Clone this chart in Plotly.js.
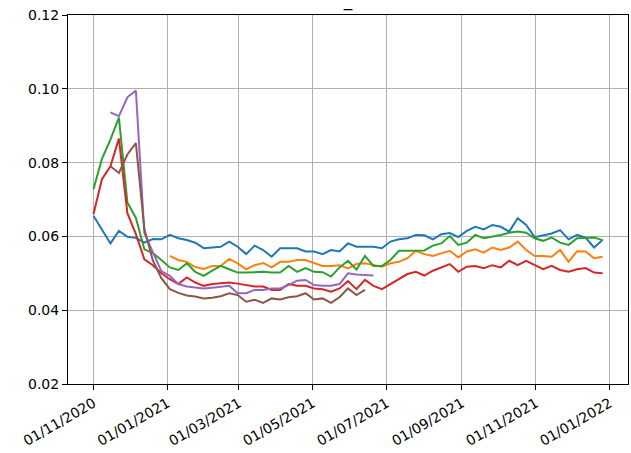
<!DOCTYPE html>
<html>
<head>
<meta charset="utf-8">
<script src="https://cdn.plot.ly/plotly-3.0.1.min.js"></script>
<style>html,body{margin:0;padding:0;background:#fff;}#chart{width:631px;height:453px;}</style>
</head>
<body>
<div id="chart"></div>
<script>
const dates = [
"2020-11-01","2020-11-08","2020-11-15","2020-11-22","2020-11-29","2020-12-06","2020-12-13","2020-12-20","2020-12-27",
"2021-01-03","2021-01-10","2021-01-17","2021-01-24","2021-01-31","2021-02-07","2021-02-14","2021-02-21","2021-02-28",
"2021-03-07","2021-03-14","2021-03-21","2021-03-28","2021-04-04","2021-04-11","2021-04-18","2021-04-25",
"2021-05-02","2021-05-09","2021-05-16","2021-05-23","2021-05-30","2021-06-06","2021-06-13","2021-06-20","2021-06-27",
"2021-07-04","2021-07-11","2021-07-18","2021-07-25","2021-08-01","2021-08-08","2021-08-15","2021-08-22","2021-08-29",
"2021-09-05","2021-09-12","2021-09-19","2021-09-26","2021-10-03","2021-10-10","2021-10-17","2021-10-24","2021-10-31",
"2021-11-07","2021-11-14","2021-11-21","2021-11-28","2021-12-05","2021-12-12","2021-12-19","2021-12-26"];

const seriesBlue = [0.0656,0.0620,0.0581,0.0615,0.0599,0.0596,0.0583,0.0593,0.0592,0.0604,
0.0595,0.0590,0.0583,0.0568,0.0569,0.0572,0.0586,0.0572,0.0552,0.0575,
0.0563,0.0545,0.0568,0.0568,0.0568,0.0559,0.0559,0.0552,0.0563,0.0559,
0.0581,0.0572,0.0572,0.0572,0.0568,0.0586,0.0592,0.0595,0.0604,0.0603,
0.0592,0.0606,0.0609,0.0598,0.0615,0.0626,0.0619,0.0631,0.0626,0.0613,
0.0649,0.0631,0.0598,0.0604,0.0608,0.0617,0.0592,0.0604,0.0597,0.0570,
0.0590];

const seriesOrange = [null,null,null,null,null,null,null,null,null,
0.0547,0.0536,0.0531,0.0517,0.0512,0.0520,0.0520,0.0539,0.0527,0.0511,0.0522,0.0528,
0.0516,0.0531,0.0531,0.0536,0.0536,0.0527,0.0520,0.0520,0.0522,
0.0513,0.0525,0.0527,0.0522,0.0518,0.0527,0.0531,0.0541,0.0561,0.0552,
0.0547,0.0554,0.0561,0.0543,0.0559,0.0565,0.0556,0.0570,0.0563,0.0570,
0.0586,0.0563,0.0547,0.0547,0.0545,0.0563,0.0531,0.0560,0.0559,0.0541,
0.0545];

const seriesGreen = [0.0728,0.0810,0.0862,0.0922,0.0692,0.0650,0.0565,0.0555,0.0536,0.0516,
0.0509,0.0527,0.0504,0.0493,0.0507,0.0520,0.0511,0.0502,0.0502,0.0504,
0.0504,0.0502,0.0502,0.0520,0.0504,0.0514,0.0504,0.0503,0.0491,0.0516,
0.0534,0.0510,0.0547,0.0520,0.0520,0.0536,0.0561,0.0561,0.0561,0.0562,
0.0575,0.0581,0.0601,0.0577,0.0583,0.0604,0.0595,0.0599,0.0604,0.0610,
0.0613,0.0610,0.0595,0.0588,0.0597,0.0583,0.0577,0.0595,0.0597,0.0597,
0.0590];

const seriesRed = [0.0660,0.0755,0.0790,0.0865,0.0663,0.0606,0.0538,0.0522,0.0500,0.0484,
0.0471,0.0489,0.0475,0.0466,0.0471,0.0473,0.0475,0.0472,0.0468,0.0464,
0.0464,0.0455,0.0455,0.0471,0.0466,0.0466,0.0459,0.0457,0.0450,0.0459,
0.0479,0.0457,0.0482,0.0466,0.0457,0.0471,0.0486,0.0498,0.0504,0.0494,
0.0507,0.0516,0.0525,0.0504,0.0518,0.0520,0.0514,0.0522,0.0516,0.0534,
0.0522,0.0534,0.0522,0.0511,0.0520,0.0509,0.0504,0.0511,0.0514,0.0502,
0.0500];

const seriesPurple = [null,null,
0.0936,0.0926,0.0977,0.0995,0.0609,0.0555,0.0506,0.0493,0.0471,0.0464,
0.0462,0.0459,0.0461,0.0464,0.0466,0.0446,0.0446,0.0455,0.0455,0.0459,
0.0459,0.0468,0.0480,0.0482,0.0468,0.0466,0.0466,0.0471,0.0500,0.0497,
0.0495,0.0494];

const seriesBrown = [null,null,
0.0790,0.0772,0.0822,0.0853,0.0620,0.0535,0.0487,0.0457,0.0447,0.0440,
0.0437,0.0432,0.0434,0.0438,0.0446,0.0441,0.0423,0.0428,0.0420,0.0432,
0.0429,0.0435,0.0438,0.0446,0.0429,0.0432,0.0420,0.0435,0.0459,0.0441,
0.0455];

const tickDates = ["2020-11-01","2021-01-01","2021-03-01","2021-05-01","2021-07-01","2021-09-01","2021-11-01","2022-01-01"];
const tickLabels = ["01/11/2020","01/01/2021","01/03/2021","01/05/2021","01/07/2021","01/09/2021","01/11/2021","01/01/2022"];
const yTicks = [0.02,0.04,0.06,0.08,0.10,0.12];

const colors = ["#1f77b4","#ff7f0e","#2ca02c","#d62728","#9467bd","#8c564b"];
const allSeries = [seriesBlue, seriesOrange, seriesGreen, seriesRed, seriesPurple, seriesBrown];

const traces = allSeries.map((s, k) => ({
  type: "scatter", mode: "lines",
  x: dates.slice(0, s.length), y: s,
  line: {color: colors[k], width: 2},
  connectgaps: false, showlegend: false, hoverinfo: "skip"
}));

const font = {family: "DejaVu Sans", size: 14, color: "#000"};
const layout = {
  width: 631, height: 453,
  margin: {l: 68, r: 3, t: 15, b: 69},
  paper_bgcolor: "#fff", plot_bgcolor: "#fff",
  font: font,
  title: {text: "_", font: {family: "DejaVu Sans", size: 17, color: "#000"},
          x: 0.5, xref: "paper", y: 1, yref: "paper", yanchor: "bottom", pad: {b: 9}},
  xaxis: {
    type: "date", range: ["2020-10-11", "2022-01-16"],
    tickmode: "array", tickvals: tickDates, ticktext: tickLabels, tickangle: -30,
    showgrid: true, gridcolor: "#b0b0b0", gridwidth: 1,
    showline: true, linecolor: "#000", linewidth: 1, mirror: true,
    ticks: "outside", ticklen: 5, tickcolor: "#000", tickwidth: 1,
    zeroline: false, tickfont: font
  },
  yaxis: {
    range: [0.02, 0.12], tickmode: "array", tickvals: yTicks, tickformat: ".2f",
    showgrid: true, gridcolor: "#b0b0b0", gridwidth: 1,
    showline: true, linecolor: "#000", linewidth: 1, mirror: true,
    ticks: "outside", ticklen: 5, tickcolor: "#000", tickwidth: 1,
    zeroline: false, tickfont: font
  }
};
Plotly.newPlot("chart", traces, layout, {staticPlot: true, displayModeBar: false});
</script>
</body>
</html>
